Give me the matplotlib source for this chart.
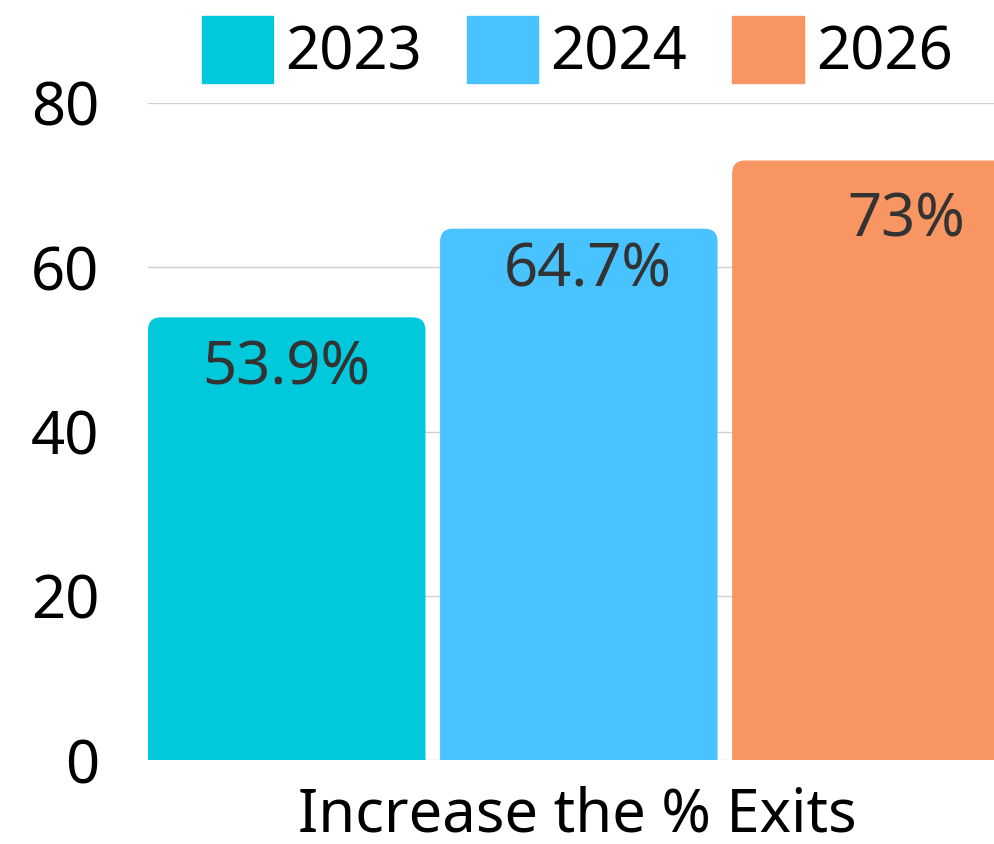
import matplotlib.pyplot as plt
from matplotlib.patches import FancyBboxPatch

plt.rcParams['font.family'] = ['Noto Sans', 'DejaVu Sans']

years = ['2023', '2024', '2026']
values = [53.9, 64.7, 73]
labels = ['53.9%', '64.7%', '73%']
colors = ['#00C9DB', '#48C3FF', '#F79563']
category = 'Increase the % Exits'

W, H = 995, 844
fig = plt.figure(figsize=(W / 100, H / 100), dpi=100)
ax = fig.add_axes([148 / W, (H - 760) / H, (995 - 148) / W, (760 - 103) / H])

ax.set_xlim(-0.475, 2.425)
ax.set_ylim(0, 80)
bars = ax.bar(range(len(values)), values, width=0.95, color=colors)

# rounded top corners, radius in pixels
radius_px = 13
px_x = (2.425 + 0.475) / (995 - 148)
px_y = 80 / (760 - 103)
for rect, c in zip(bars, colors):
    rect.set_visible(False)
    x, w, h = rect.get_x(), rect.get_width(), rect.get_height()
    extra = 5
    patch = FancyBboxPatch((x, -extra), w, h + extra,
                           boxstyle=f"round,pad=0,rounding_size={radius_px * px_x}",
                           mutation_aspect=px_y / px_x,
                           facecolor=c, edgecolor='none', zorder=2)
    ax.add_patch(patch)

dx = [0, 9, 35]
dy = [-51, -42, -60]
for i, (v, lab) in enumerate(zip(values, labels)):
    ax.annotate(lab, (i, v), xytext=(dx[i], dy[i]), textcoords='offset pixels',
                ha='center', va='center', fontsize=43, color='#333333', zorder=3)

ax.set_yticks([0, 20, 40, 60, 80])
ax.tick_params(axis='y', length=0, pad=35, labelsize=43)
ax.set_xticks([])
ax.grid(axis='y', color='#d0d0d0', linewidth=1)
ax.set_axisbelow(True)
for s in ax.spines.values():
    s.set_visible(False)

handles = [plt.Rectangle((0, 0), 1, 1, color=c) for c in colors]
fig.legend(handles, years, loc='center', bbox_to_anchor=(577 / W, 1 - 50 / H),
           ncol=3, frameon=False, fontsize=43, handlelength=1.2, handleheight=1.35,
           handletextpad=0.2, columnspacing=0.75, borderpad=0)

fig.text(577 / W, 1 - 815 / H, category, ha='center', va='center', fontsize=43)

fig.savefig('out.png', dpi=100)
